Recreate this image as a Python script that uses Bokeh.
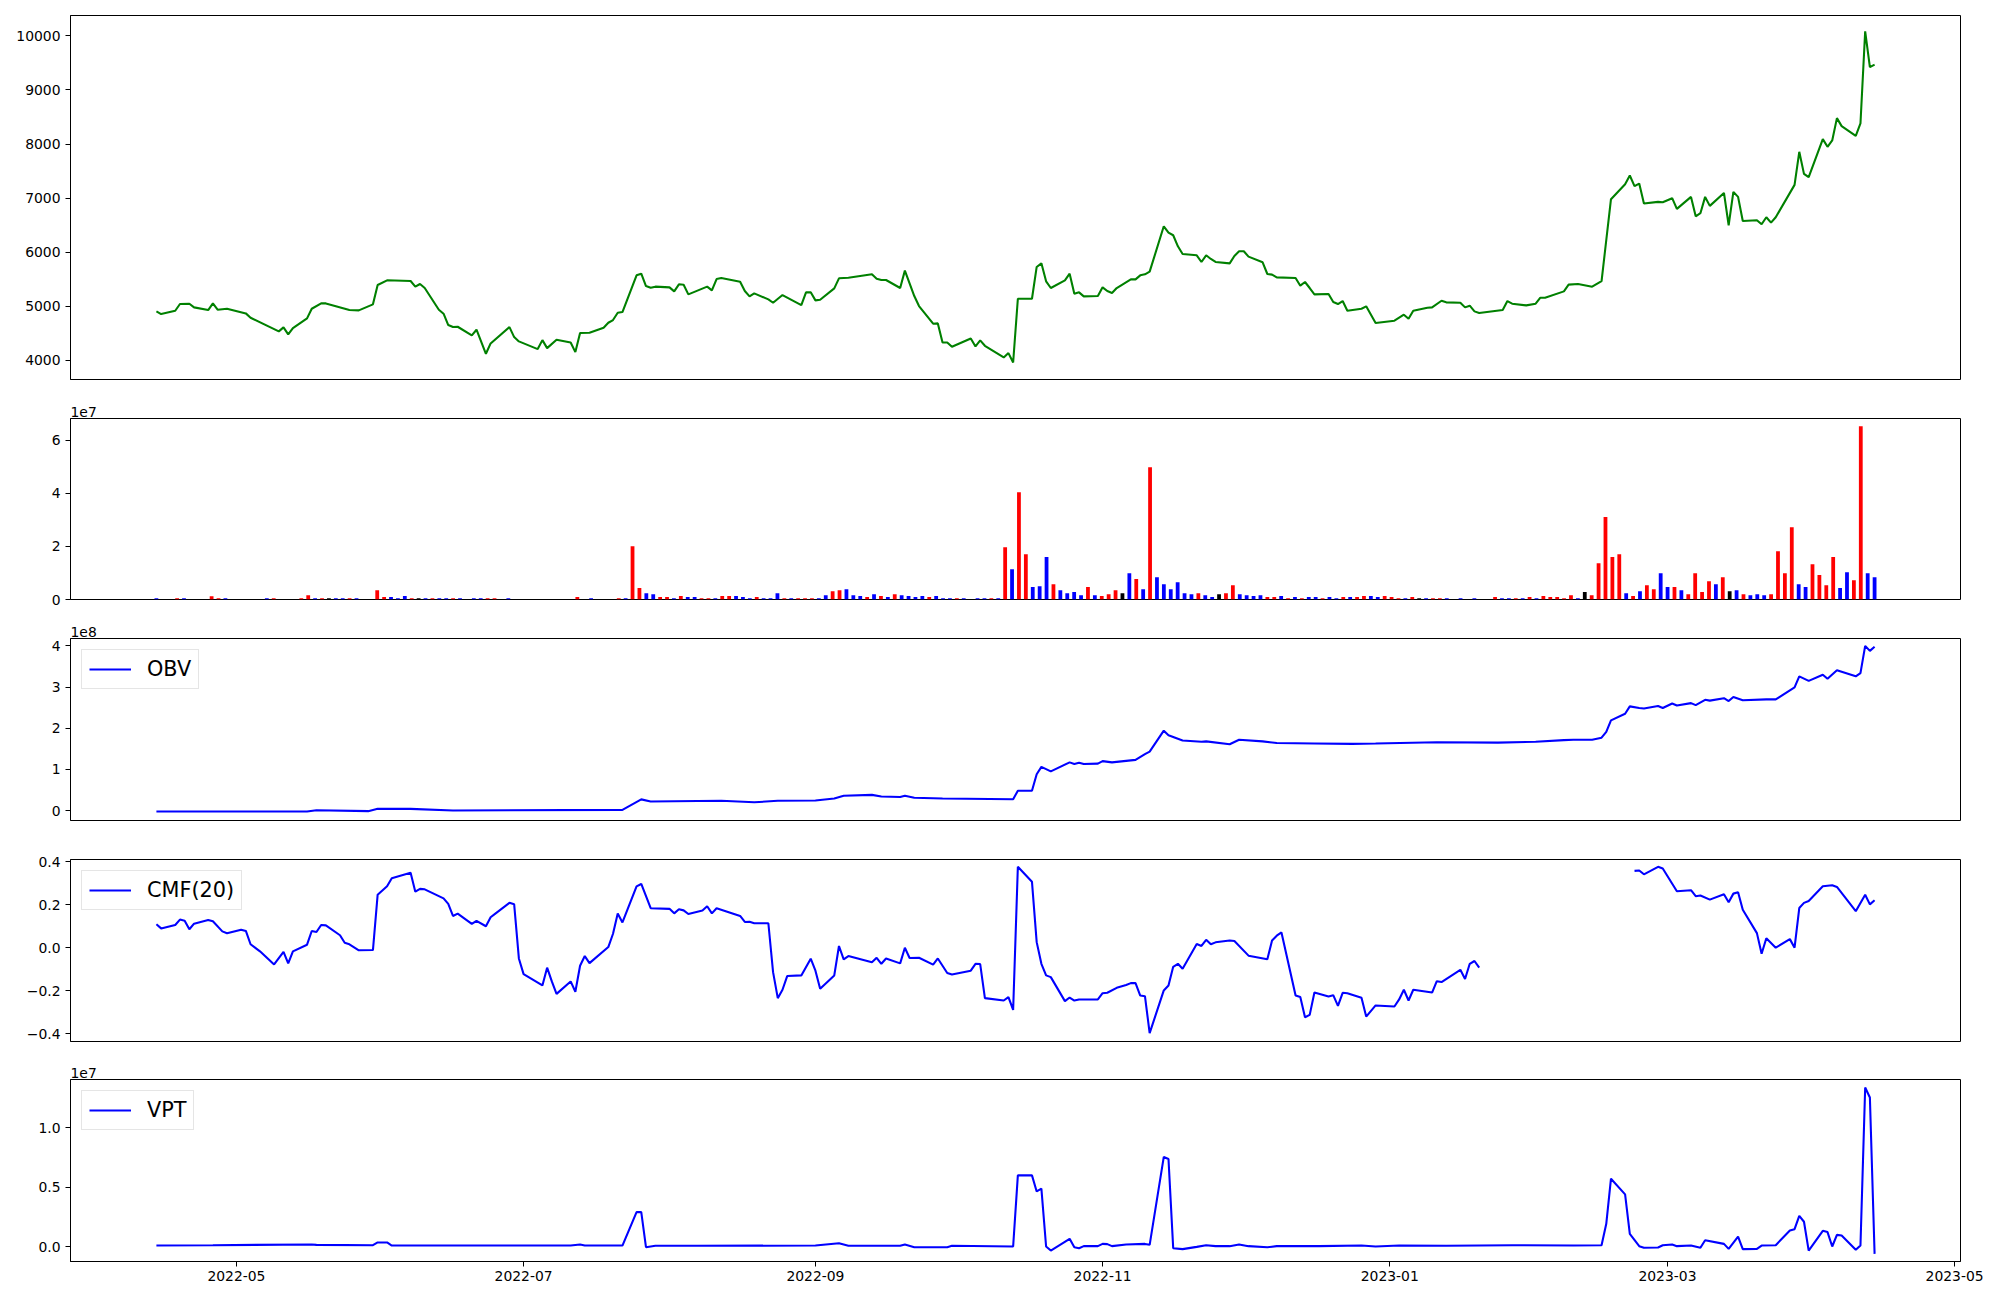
import numpy as np
import pandas as pd
from bokeh.plotting import figure
from bokeh.layouts import column
from bokeh.models import Range1d, FixedTicker, DatetimeTickFormatter, CustomJSTickFormatter
from bokeh.embed import file_html
from bokeh.resources import INLINE

# ---------------- data (days are counted from 2022-05-01) ----------------
BASE = pd.Timestamp("2022-05-01")

price_day = [-17, -16, -13, -12, -10, -9, -6, -5, -4, -2,
             2, 3, 9, 10, 11, 12, 15, 16, 18, 19,
             24, 26, 29, 30, 32, 37, 38, 39, 40, 43,
             44, 45, 46, 47, 50, 51, 53, 54, 58, 59,
             60, 64, 65, 66, 68, 71, 72, 73, 75, 78,
             79, 80, 81, 82, 85, 86, 87, 88, 89, 92,
             93, 94, 95, 96, 100, 101, 102, 103, 107, 108,
             109, 110, 113, 114, 116, 120, 121, 122, 123, 124,
             127, 128, 130, 135, 136, 137, 138, 141, 142, 144,
             145, 148, 149, 150, 151, 152, 156, 157, 158, 159,
             163, 164, 165, 166, 169, 170, 171, 172, 173, 176,
             177, 178, 179, 180, 183, 184, 185, 186, 187, 190,
             191, 192, 193, 194, 197, 198, 199, 200, 201, 204,
             205, 206, 207, 208, 211, 212, 213, 214, 215, 218,
             219, 220, 221, 225, 226, 227, 228, 229, 232, 233,
             234, 235, 236, 239, 240, 242, 246, 248, 249, 250,
             253, 254, 256, 257, 260, 261, 262, 263, 264, 269,
             270, 271, 274, 276, 277, 278, 282, 283, 285, 288,
             290, 292, 295, 296, 297, 298, 299, 302, 303, 305,
             306, 309, 310, 311, 312, 313, 316, 317, 318, 319,
             320, 323, 324, 325, 326, 327, 331, 332, 333, 334,
             337, 338, 339, 340, 341, 344, 345, 346, 347, 348]
price_close = [4907, 4858, 4919, 5043, 5049, 4981, 4932, 5055, 4938, 4956,
               4870, 4790, 4537, 4611, 4481, 4598, 4777, 4956, 5055, 5055,
               4932, 4925, 5037, 5394, 5481, 5468, 5364, 5413, 5339, 4938,
               4864, 4654, 4617, 4623, 4463, 4568, 4123, 4315, 4617, 4432,
               4352, 4210, 4376, 4228, 4383, 4333, 4154, 4506, 4512, 4605,
               4697, 4747, 4882, 4895, 5573, 5604, 5376, 5345, 5364, 5351,
               5277, 5407, 5400, 5222, 5364, 5296, 5505, 5524, 5456, 5283,
               5185, 5240, 5129, 5067, 5209, 5024, 5259, 5259, 5111, 5123,
               5333, 5518, 5530, 5592, 5512, 5487, 5487, 5339, 5660, 5191,
               5006, 4679, 4685, 4333, 4333, 4253, 4407, 4259, 4370, 4271,
               4056, 4136, 3963, 5141, 5141, 5728, 5795, 5462, 5339, 5481,
               5604, 5234, 5259, 5185, 5191, 5351, 5283, 5246, 5339, 5499,
               5499, 5573, 5592, 5641, 6480, 6363, 6314, 6110, 5968, 5944,
               5820, 5944, 5876, 5820, 5795, 5931, 6018, 6018, 5919, 5814,
               5598, 5586, 5536, 5524, 5382, 5450, 5339, 5222, 5228, 5080,
               5043, 5098, 4919, 4956, 5000, 4691, 4734, 4845, 4771, 4919,
               4975, 4981, 5104, 5074, 5067, 4981, 5012, 4907, 4876, 4932,
               5098, 5049, 5018, 5049, 5160, 5160, 5277, 5401, 5413, 5364,
               5468, 6980, 7258, 7418, 7221, 7270, 6900, 6931, 6925, 6999,
               6801, 7023, 6665, 6721, 7023, 6857, 7097, 6499, 7116, 7023,
               6579, 6591, 6517, 6647, 6548, 6647, 7245, 7856, 7449, 7387,
               8091, 7949, 8066, 8479, 8331, 8152, 8381, 10084, 9423, 9467]

# volume bars, plotted by trading-day index (0..249); values in units of 1e7
vol_idx = [0, 3, 4, 8, 9, 10, 16, 17, 21, 22,
           23, 24, 25, 26, 27, 28, 29, 32, 33, 34,
           35, 36, 37, 38, 39, 40, 41, 42, 43, 44,
           46, 47, 48, 49, 51, 61, 63, 67, 68, 69,
           70, 71, 72, 73, 74, 75, 76, 77, 78, 79,
           80, 81, 82, 83, 84, 85, 86, 87, 88, 89,
           90, 91, 92, 93, 94, 95, 96, 97, 98, 99,
           100, 101, 102, 103, 104, 105, 106, 107, 108, 109,
           110, 111, 112, 113, 114, 115, 116, 117,
           119, 120, 121, 122, 123, 124, 125, 126, 127, 128,
           129, 130, 131, 132, 133, 134, 135, 136, 137, 138,
           139, 140, 141, 142, 143, 144, 145, 146, 147, 148,
           149, 150, 151, 152, 153, 154, 155, 156, 157, 158,
           159, 160, 161, 162, 163, 164, 165, 166, 167, 168,
           169, 170, 171, 172, 173, 174, 175, 176, 177, 178,
           179, 180, 181, 182, 183, 184, 185, 186, 187,
           189, 191, 194, 195, 196, 197, 198, 199, 200, 201,
           202, 203, 204, 205, 206, 207, 208, 209, 210, 211,
           212, 213, 214, 215, 216, 217, 218, 219, 220, 221,
           222, 223, 224, 225, 226, 227, 228, 229, 230, 231,
           232, 233, 234, 235, 236, 237, 238, 239, 240, 241,
           242, 243, 244, 245, 246, 247, 248, 249]
vol_1e7 = [0.05, 0.05, 0.05, 0.126, 0.05, 0.05, 0.05, 0.05, 0.05, 0.16,
           0.05, 0.05, 0.05, 0.05, 0.05, 0.05, 0.05, 0.35, 0.09, 0.09,
           0.05, 0.13, 0.05, 0.05, 0.05, 0.05, 0.05, 0.05, 0.05, 0.05,
           0.05, 0.05, 0.05, 0.05, 0.05, 0.09, 0.05, 0.05, 0.05, 2.01,
           0.43, 0.24, 0.20, 0.09, 0.09, 0.05, 0.13, 0.09, 0.09, 0.05,
           0.05, 0.05, 0.13, 0.13, 0.13, 0.09, 0.05, 0.09, 0.05, 0.05,
           0.24, 0.05, 0.05, 0.05, 0.05, 0.05, 0.05, 0.16, 0.31, 0.35,
           0.39, 0.16, 0.13, 0.09, 0.20, 0.13, 0.09, 0.20, 0.16, 0.13,
           0.09, 0.13, 0.09, 0.13, 0.05, 0.05, 0.05, 0.05,
           0.05, 0.05, 0.05, 0.05, 1.97, 1.14, 4.05, 1.71, 0.47, 0.50,
           1.60, 0.58, 0.35, 0.24, 0.28, 0.16, 0.47, 0.16, 0.13, 0.20,
           0.35, 0.24, 0.99, 0.77, 0.39, 4.99, 0.84, 0.58, 0.39, 0.65,
           0.24, 0.20, 0.24, 0.16, 0.09, 0.20, 0.24, 0.54, 0.20, 0.16,
           0.13, 0.16, 0.09, 0.09, 0.13, 0.05, 0.09, 0.05, 0.09, 0.09,
           0.05, 0.09, 0.05, 0.09, 0.09, 0.09, 0.13, 0.13, 0.09, 0.13,
           0.09, 0.05, 0.05, 0.09, 0.05, 0.05, 0.05, 0.05, 0.05,
           0.05, 0.05, 0.09, 0.05, 0.05, 0.05, 0.05, 0.09, 0.05, 0.13,
           0.09, 0.09, 0.05, 0.16, 0.05, 0.28, 0.16, 1.37, 3.11, 1.60,
           1.71, 0.24, 0.13, 0.31, 0.54, 0.39, 0.99, 0.47, 0.47, 0.35,
           0.20, 0.99, 0.28, 0.69, 0.58, 0.84, 0.31, 0.35, 0.20, 0.16,
           0.20, 0.16, 0.20, 1.82, 0.99, 2.73, 0.58, 0.47, 1.33, 0.92,
           0.54, 1.60, 0.43, 1.03, 0.73, 6.54, 0.99, 0.84]
# r = up day, b = down day, k = unchanged
vol_dir = list("brbrrbbrrr" "brkbbrbrrb" "bbrkbrbbrb" "bbrrbrbrbr"
               "rbbrrbrbbr" "rbrrbbbrbb" "brbrrrbbrr" "bbbrbrbrbb"
               "bbrbbbrb" "bbrbrbrrbb" "brbbbbrbrr" "rkbrbrbbbb"
               "bbrbbkrrbb" "bbrrbrbrbb" "rbbrbrrbbr" "rrbrkbrrb"
               "bbrbbrbrbr" "rrrrbkrrrr" "rbrbrrbbrb" "rrrrbrkbrb"
               "bbrrrrbbrr" "rrbbrrbb")

obv_day = [-17, 15, 17, 28, 30, 37, 46, 82, 86, 88,
           103, 110, 115, 123, 127, 129, 135, 137, 141, 142,
           144, 150, 165, 166, 169, 170, 171, 173, 177, 178,
           179, 180, 183, 184, 186, 191, 193, 194, 197, 198,
           201, 205, 206, 211, 213, 218, 221, 229, 237, 242,
           255, 268, 276, 282, 284, 288, 290, 291, 292, 295,
           296, 298, 299, 302, 303, 305, 306, 309, 310, 312,
           313, 316, 317, 318, 320, 325, 327, 331, 332, 334,
           337, 338, 340, 344, 345, 346, 347, 348]
obv_1e8 = [-0.024, -0.024, 0.008, -0.016, 0.04, 0.04, 0.0, 0.016, 0.27, 0.22,
           0.235, 0.20, 0.235, 0.243, 0.29, 0.36, 0.38, 0.34, 0.33, 0.36,
           0.31, 0.29, 0.275, 0.48, 0.48, 0.88, 1.06, 0.95, 1.17, 1.13,
           1.16, 1.13, 1.14, 1.20, 1.17, 1.23, 1.37, 1.43, 1.94, 1.83,
           1.70, 1.67, 1.68, 1.61, 1.72, 1.68, 1.64, 1.63, 1.62, 1.63,
           1.66, 1.65, 1.67, 1.71, 1.72, 1.72, 1.77, 1.91, 2.19, 2.35,
           2.53, 2.49, 2.48, 2.54, 2.49, 2.60, 2.55, 2.61, 2.56, 2.69,
           2.67, 2.73, 2.66, 2.76, 2.68, 2.70, 2.70, 2.99, 3.26, 3.15,
           3.30, 3.20, 3.41, 3.26, 3.34, 4.00, 3.88, 3.98]

nan = float("nan")
cmf_day = [-17, -16, -13, -12, -11, -10, -9, -6, -5, -3,
           -2, 1, 2, 3, 5, 8, 10, 11, 12, 15,
           16, 17, 18, 19, 22, 23, 24, 26, 29, 30,
           32, 33, 37, 38, 39, 40, 44, 45, 46, 47,
           50, 51, 53, 54, 55, 58, 59, 60, 61, 65,
           66, 67, 68, 71, 72, 73, 74, 75, 79, 80,
           81, 82, 85, 86, 88, 92, 93, 94, 95, 96,
           99, 100, 101, 102, 107, 108, 109, 110, 113, 114,
           115, 116, 117, 120, 122, 123, 124, 127, 128, 129,
           130, 135, 136, 137, 138, 141, 142, 143, 145, 148,
           149, 151, 152, 156, 157, 158, 159, 163, 164, 165,
           166, 169, 170, 171, 172, 173, 176, 177, 178, 179,
           183, 184, 185, 187, 189, 190, 191, 192, 193, 194,
           197, 198, 199, 200, 201, 204, 205, 206, 207, 208,
           211, 212, 215, 219, 220, 221, 222, 225, 226, 227,
           228, 229, 232, 233, 234, 235, 236, 239, 240, 242,
           246, 247, 248, 249, 250, 254, 255, 256, 260, 261,
           262, 263, 264, 280, 297, 298, 299, 302, 303, 306,
           309, 310, 311, 313, 316, 317, 318, 319, 320, 323,
           324, 325, 327, 330, 331, 332, 333, 334, 337, 339,
           340, 344, 346, 347, 348]
cmf_20 = [0.109, 0.090, 0.106, 0.131, 0.126, 0.086, 0.112, 0.129, 0.123, 0.076,
          0.067, 0.084, 0.078, 0.016, -0.017, -0.078, -0.019, -0.073, -0.017, 0.014,
          0.078, 0.073, 0.106, 0.104, 0.058, 0.023, 0.016, -0.012, -0.011, 0.247,
          0.286, 0.324, 0.349, 0.261, 0.274, 0.272, 0.230, 0.204, 0.148, 0.159,
          0.111, 0.125, 0.100, 0.142, 0.159, 0.209, 0.202, -0.050, -0.123, -0.176,
          -0.093, -0.157, -0.215, -0.157, -0.205, -0.084, -0.039, -0.072, 0.003, 0.065,
          0.159, 0.118, 0.286, 0.297, 0.184, 0.181, 0.160, 0.179, 0.174, 0.157,
          0.173, 0.193, 0.160, 0.184, 0.148, 0.120, 0.121, 0.114, 0.114, -0.114,
          -0.235, -0.196, -0.132, -0.129, -0.051, -0.107, -0.191, -0.129, 0.008, -0.054,
          -0.039, -0.068, -0.047, -0.075, -0.050, -0.073, 0.0, -0.048, -0.047, -0.079,
          -0.050, -0.118, -0.125, -0.107, -0.075, -0.076, -0.235, -0.246, -0.230, -0.290,
          0.377, 0.307, 0.026, -0.075, -0.129, -0.137, -0.249, -0.232, -0.246, -0.241,
          -0.241, -0.212, -0.210, -0.187, -0.174, -0.165, -0.165, -0.223, -0.226, -0.398,
          -0.199, -0.176, -0.089, -0.075, -0.098, 0.017, 0.008, 0.037, 0.016, 0.025,
          0.034, 0.031, -0.037, -0.054, 0.034, 0.056, 0.071, -0.223, -0.230, -0.324,
          -0.313, -0.209, -0.227, -0.221, -0.271, -0.210, -0.212, -0.233, -0.321, -0.269,
          -0.274, -0.241, -0.196, -0.246, -0.196, -0.209, -0.156, -0.160, -0.103, -0.146,
          -0.075, -0.062, -0.093, nan, 0.358, 0.360, 0.342, 0.377, 0.369, 0.263,
          0.268, 0.240, 0.243, 0.224, 0.249, 0.212, 0.252, 0.258, 0.177, 0.068,
          -0.028, 0.044, 0.0, 0.040, 0.0, 0.185, 0.209, 0.218, 0.286, 0.291,
          0.283, 0.170, 0.247, 0.202, 0.221]

vpt_day = [-17, -5, 16, 17, 29, 30, 32, 33, 71, 73,
           74, 82, 85, 86, 87, 89, 98, 123, 128, 130,
           141, 142, 144, 151, 152, 165, 166, 169, 170, 171,
           172, 173, 177, 178, 179, 180, 183, 184, 185, 186,
           189, 193, 194, 197, 198, 199, 201, 204, 206, 208,
           211, 213, 215, 219, 221, 230, 239, 242, 247, 257,
           271, 284, 290, 291, 292, 295, 296, 298, 299, 302,
           303, 305, 306, 309, 311, 312, 316, 317, 319, 320,
           323, 324, 327, 330, 331, 332, 333, 334, 337, 338,
           339, 340, 341, 344, 345, 346, 347, 348]
vpt_1e7 = [0.008, 0.011, 0.017, 0.014, 0.011, 0.034, 0.034, 0.008, 0.008, 0.017,
           0.008, 0.008, 0.289, 0.289, -0.006, 0.006, 0.006, 0.008, 0.028, 0.006,
           0.006, 0.017, -0.006, -0.006, 0.006, 0.0, 0.598, 0.598, 0.463, 0.486,
           0.0, -0.034, 0.065, -0.006, -0.014, 0.003, 0.003, 0.022, 0.020, 0.003,
           0.017, 0.022, 0.014, 0.753, 0.736, -0.014, -0.022, -0.003, 0.011, 0.003,
           0.003, 0.017, 0.003, -0.006, 0.003, 0.003, 0.008, 0.0, 0.008, 0.006,
           0.011, 0.008, 0.011, 0.191, 0.570, 0.438, 0.107, 0.003, -0.011, -0.008,
           0.011, 0.017, 0.003, 0.008, -0.011, 0.053, 0.022, -0.020, 0.084, -0.022,
           -0.020, 0.008, 0.011, 0.135, 0.146, 0.258, 0.208, -0.034, 0.132, 0.121,
           0.0, 0.098, 0.093, -0.028, 0.008, 1.337, 1.253, -0.062]

month_ticks = ["2022-05-01", "2022-07-01", "2022-09-01", "2022-11-01",
               "2023-01-01", "2023-03-01", "2023-05-01"]

assert len(price_day) == len(price_close)
assert len(vol_idx) == len(vol_1e7) == len(vol_dir), (len(vol_idx), len(vol_1e7), len(vol_dir))
assert len(obv_day) == len(obv_1e8)
assert len(cmf_day) == len(cmf_20)
assert len(vpt_day) == len(vpt_1e7)

# ---------------- helpers ----------------
def to_dt(days):
    return (BASE + pd.to_timedelta(np.asarray(days, dtype=float), unit="D")).values

FONT = "DejaVu Sans"
TICK_PX = "13.9px"
W = 1990
N_BARS = 250
date_lo = BASE + pd.Timedelta(days=-35.25)
date_hi = BASE + pd.Timedelta(days=366.25)


def make_fig(height, top, bottom, x_range, y_lo, y_hi, ticks, fmt_code, offset_text=""):
    p = figure(width=W, height=height, x_range=x_range, y_range=Range1d(y_lo, y_hi),
               output_backend="svg", toolbar_location=None,
               min_border_left=70, min_border_right=30,
               min_border_top=top, min_border_bottom=bottom)
    p.title.text = offset_text
    p.title.align = "left"
    p.title.text_font = FONT
    p.title.text_font_size = TICK_PX
    p.title.text_font_style = "normal"
    p.title.text_color = "black"
    p.title.standoff = 4
    p.grid.visible = False
    p.outline_line_color = "black"
    p.outline_line_width = 1
    p.outline_line_alpha = 1
    p.background_fill_color = "white"
    p.border_fill_color = "white"
    ax = p.yaxis[0]
    ax.ticker = FixedTicker(ticks=ticks)
    ax.formatter = CustomJSTickFormatter(code=fmt_code)
    ax.major_tick_out = 5
    ax.major_tick_in = 0
    ax.minor_tick_line_color = None
    ax.axis_line_color = "black"
    ax.major_tick_line_color = "black"
    ax.major_label_standoff = 5
    ax.major_label_text_font = FONT
    ax.major_label_text_font_size = TICK_PX
    ax.major_label_text_color = "black"
    return p


def style_legend(p):
    lg = p.legend[0]
    lg.location = "top_left"
    lg.label_text_font = FONT
    lg.label_text_font_size = "20.8px"
    lg.label_text_color = "black"
    lg.glyph_width = 42
    lg.glyph_height = 22
    lg.label_height = 22
    lg.label_standoff = 16
    lg.padding = 7
    lg.margin = 11
    lg.spacing = 0
    lg.border_line_color = "#cccccc"
    lg.border_line_width = 1
    lg.background_fill_alpha = 0.8


fmt0 = "return tick.toFixed(0);"
fmt1 = "return tick.toFixed(1).replace('-', '\\u2212');"

# ---------------- panel 1: price ----------------
p1 = make_fig(389, 15, 10, Range1d(date_lo, date_hi), 3648, 10376,
              [4000, 5000, 6000, 7000, 8000, 9000, 10000], fmt0, "")
p1.line(to_dt(price_day), price_close, line_color="#008000", line_width=2.08)
p1.xaxis.visible = False

# ---------------- panel 2: volume bars (by trading-day index) ----------------
x_pad = 0.05 * (N_BARS - 1)
p2 = make_fig(220, 29, 10, Range1d(-x_pad, N_BARS - 1 + x_pad), 0, 6.83,
              [0, 2, 4, 6], fmt0, "1e7")
cmap = {"r": "#ff0000", "b": "#0000ff", "k": "#000000"}
p2.vbar(x=vol_idx, top=vol_1e7, bottom=0, width=0.55,
        fill_color=[cmap[c] for c in vol_dir], line_color=None)
p2.xaxis.visible = False

# ---------------- panel 3: OBV ----------------
p3 = make_fig(221, 29, 10, Range1d(date_lo, date_hi), -0.243, 4.18,
              [0, 1, 2, 3, 4], fmt0, "1e8")
p3.line(to_dt(obv_day), obv_1e8, line_color="#0000ff", line_width=2.08, legend_label="OBV")
p3.xaxis.visible = False
style_legend(p3)

# ---------------- panel 4: CMF(20) ----------------
p4 = make_fig(221, 29, 10, Range1d(date_lo, date_hi), -0.437, 0.411,
              [-0.4, -0.2, 0.0, 0.2, 0.4], fmt1, "")
p4.line(to_dt(cmf_day), cmf_20, line_color="#0000ff", line_width=2.08, legend_label="CMF(20)")
p4.xaxis.visible = False
style_legend(p4)

# ---------------- panel 5: VPT ----------------
p5 = make_fig(240, 28, 30, Range1d(date_lo, date_hi), -0.126, 1.404,
              [0.0, 0.5, 1.0], fmt1, "1e7")
p5.line(to_dt(vpt_day), vpt_1e7, line_color="#0000ff", line_width=2.08, legend_label="VPT")
style_legend(p5)
xa = p5.xaxis[0]
xa.ticker = FixedTicker(ticks=[pd.Timestamp(t).value / 1e6 for t in month_ticks])
xa.formatter = DatetimeTickFormatter(years="%Y-%m", months="%Y-%m", days="%Y-%m",
                                     hours="%Y-%m", minutes="%Y-%m", seconds="%Y-%m",
                                     milliseconds="%Y-%m", microseconds="%Y-%m",
                                     hourmin="%Y-%m", minsec="%Y-%m")
xa.major_tick_out = 5
xa.major_tick_in = 0
xa.minor_tick_line_color = None
xa.axis_line_color = "black"
xa.major_label_standoff = 4
xa.major_label_text_font = FONT
xa.major_label_text_font_size = TICK_PX
xa.major_label_text_color = "black"

layout = column(p1, p2, p3, p4, p5)
open("out.html", "w").write(file_html(layout, INLINE))
